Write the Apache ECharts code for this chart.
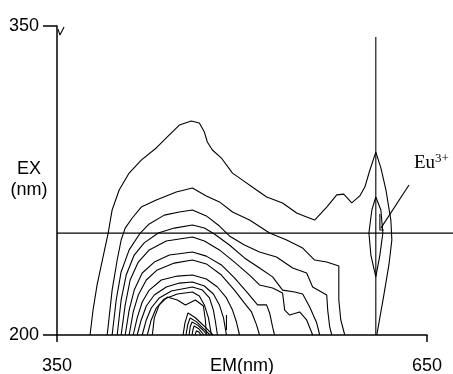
<!DOCTYPE html>
<html>
<head>
<meta charset="utf-8">
<script src="https://cdn.jsdelivr.net/npm/echarts@6/dist/echarts.min.js"></script>
<style>
  html, body { margin: 0; padding: 0; background: #fff; overflow: hidden; }
  #chart { width: 453px; height: 374px; }
</style>
</head>
<body>
<div id="chart"></div>
<script>
// Axis ranges and tick labels (nm)
const emRange = [350, 650];
const exRange = [200, 350];
const emTicks = [350, 650];
const exTicks = [200, 350];

// Excitation (EX = 249.5) and emission (EM = 608.5) guide lines
const excitationLine = [[350, 249.5], [671.1, 249.5]];
const emissionLine = [[608.5, 200], [608.5, 344.7]];

// Contour lines, [EM, EX] pairs, from the outermost level inwards
const contour1 = [[376.8,200],[379.2,212],[382.5,224.3],[387,237],[391.5,249.5],[394.7,260.7],[400.4,270.4],[408.5,278.6],[418.3,284.9],[430.5,290.8],[441.1,297.1],[449.2,301.9],[458.9,303.9],[465.4,302.9],[469.5,298.5],[471.9,293.7],[476.0,289.8],[483.3,285.9],[492.3,278.6],[500.4,275.2],[511.8,270.4],[520.0,267.0],[532.9,264.1],[544.3,259.2],[552.4,257.3],[558.9,255.8],[568.7,262.1],[576.8,268.0],[582.5,268.4],[589.0,264.1],[595.5,267.5],[599.6,271.8],[603.7,280.1],[608.5,288.8],[612.6,281.1],[616.7,270.4],[620.7,255.8],[621.5,246.1],[619.1,234.0],[615.0,219.4],[609.3,200]];
const contour2 = [[390.7,200],[394.7,221.8],[398.8,236.4],[402.0,246.1],[405.3,251.9],[411.0,256.8],[418.3,262.1],[430.5,265.5],[446.7,269.4],[459.8,271.4],[471.1,267.5],[481.7,264.6],[492.3,259.7],[506.1,255.8],[522.4,249.5],[536.2,246.1],[549.2,242.2],[558.9,236.4],[568.7,235.4],[578.5,233.5],[578.5,217.0],[580.1,207.3],[583.3,200]];
const contour3 = [[394.7,200],[398.0,217.0],[402.0,230.6],[408.5,241.3],[417.5,249.5],[424.8,253.9],[437.0,258.2],[449.2,259.7],[459.8,260.7],[471.1,257.8],[481.7,252.9],[489.8,248.1],[502.0,243.7],[514.2,240.3],[528.0,237.9],[541.1,232.5],[552.4,230.1],[557.3,223.3],[568.7,219.4],[569.5,212.1],[571.1,203.9],[572.8,200]];
const contour4 = [[398.8,200],[402.0,217.0],[406.1,229.1],[412.6,238.8],[420.7,244.7],[432.1,249.5],[445.1,251.9],[459.8,253.4],[469.5,251.9],[477.6,249.0],[489.8,243.7],[502.0,237.4],[514.2,232.5],[524.8,228.2],[532.9,221.8],[542.7,220.9],[549.2,219.9],[554.9,213.6],[560.6,205.8],[563.0,200]];
const contour5 = [[402.0,200],[405.3,214.6],[409.3,226.7],[415.9,235.4],[424.8,241.3],[438.6,245.6],[449.2,246.6],[459.8,247.6],[469.5,245.6],[481.7,241.3],[493.9,235.4],[506.1,229.1],[514.2,224.3],[524.8,222.8],[532.9,220.4],[534.6,212.1],[538.6,209.7],[546.7,211.2],[552.4,207.3],[557.3,200]];
const contour6 = [[405.3,200],[408.5,212.1],[412.6,221.8],[419.1,230.1],[428.9,235.4],[441.1,238.8],[459.8,240.3],[471.1,238.3],[483.3,234.0],[493.9,227.7],[504.5,220.4],[512.6,214.6],[519.9,214.6],[522.4,210.7],[524.8,203.9],[526.4,200]];
const contour7 = [[408.5,200],[411.8,211.2],[415.9,219.4],[422.4,226.7],[431.3,231.6],[445.1,234.9],[459.8,236.4],[471.1,234.5],[483.3,229.1],[493.9,221.8],[502.0,215.5],[507.7,211.2],[511.8,204.9],[514.2,200]];
const contour8 = [[411.8,200],[415.0,208.3],[419.1,216.0],[424.8,221.8],[434.6,226.7],[447.6,228.6],[459.8,229.1],[471.1,227.2],[480.1,223.3],[487.4,218.0],[492.3,212.1],[495.5,206.3],[498.0,200]];
const contour9 = [[415.0,200],[418.3,207.3],[422.4,214.1],[428.9,219.4],[438.6,223.3],[449.2,225.2],[459.8,225.7],[469.5,223.8],[476.8,219.9],[481.7,214.6],[485.0,208.3],[487.4,200]];
const contour10 = [[419.1,200],[422.4,207.3],[426.4,213.1],[432.9,218.0],[442.7,221.4],[459.8,223.3],[467.9,221.8],[473.6,218.0],[476.8,212.1],[478.5,206.3],[480.1,200]];
const contour11 = [[423.2,200],[426.4,207.3],[430.5,213.1],[437.0,217.5],[447.6,219.9],[459.8,220.9],[465.4,218.9],[469.5,214.6],[472.8,208.3],[475.2,200]];
const contour12 = [[427.3,200],[428.9,208.3],[432.9,214.6],[439.4,218.4],[447.6,217.0],[454.1,214.6],[462.2,217.0],[468.7,214.1],[470.3,207.3],[471.1,200]];
const contour13 = [[452.2,200],[453.8,206.0],[456.2,210.7],[462.0,208.5],[469.0,204.5],[476.5,200]];
const contour14 = [[454.6,200],[456.0,205.0],[457.9,208.3],[463.0,206.5],[469.0,203.0],[474.1,200]];
const contour15 = [[457.1,200],[458.0,204.0],[459.5,206.3],[464.0,204.8],[468.5,202.3],[471.7,200]];
const contour16 = [[459.5,200],[460.2,202.5],[461.1,204.4],[465.0,203.0],[469.2,200]];
const contour17 = [[461.9,200],[463.0,202.0],[465.0,201.5],[466.8,200]];
const shoulderSegment = [[487.4,209.7],[487.4,202.4]];

// Closed inner contour of the Eu3+ emission peak
const euPeak = [[608.5,267.0],[605.3,260.7],[602.9,249.5],[604.5,238.8],[608.5,228.2],[611.8,238.8],[614.2,249.5],[612.6,260.7],[608.5,267.0]];

// Leader from the Eu3+ peak to its label
const euLeader = [[612.6,251.9],[635.4,272.8]];
const euMarker = [[611.8,258.7],[611.8,251.0],[615.0,251.0]];

// Small stroke at the top of the EX axis
const axisStroke = [[350.8,348.5],[352.4,345.6],[355.7,349.5]];

const contours = [contour1, contour2, contour3, contour4, contour5, contour6, contour7, contour8,
  contour9, contour10, contour11, contour12, contour13, contour14, contour15, contour16, contour17,
  shoulderSegment, euPeak, euMarker, emissionLine, euLeader, axisStroke];

const chart = echarts.init(document.getElementById('chart'), null, { renderer: 'canvas' });

const lineSeries = (data, width, axisIndex) => ({
  type: 'line',
  data: data,
  xAxisIndex: axisIndex,
  yAxisIndex: axisIndex,
  showSymbol: false,
  symbol: 'none',
  clip: false,
  silent: true,
  animation: false,
  lineStyle: { color: '#000', width: width }
});

const series = contours.map(c => lineSeries(c, 1.1, 0));
// the excitation line runs past the EM axis end, on a wider companion grid
series.push(lineSeries(excitationLine, 1.3, 1));

const font = 'Liberation Sans, Arial, sans-serif';

chart.setOption({
  backgroundColor: '#fff',
  animation: false,
  grid: [
    { left: 57, right: 26, top: 26, bottom: 39, containLabel: false, outerBoundsMode: 'none' },
    { left: 57, right: 0, top: 26, bottom: 39, containLabel: false, outerBoundsMode: 'none' }
  ],
  xAxis: [{
    type: 'value',
    gridIndex: 0,
    min: emRange[0], max: emRange[1],
    name: 'EM(nm)',
    nameLocation: 'middle',
    nameGap: 22,
    nameMoveOverlap: false,
    nameTextStyle: { color: '#000', fontSize: 18, fontFamily: font, verticalAlign: 'top' },
    axisLine: { show: true, onZero: false, lineStyle: { color: '#000', width: 1.5 } },
    axisTick: { show: true, customValues: emTicks, length: 7, lineStyle: { color: '#000', width: 1.5 } },
    axisLabel: { customValues: emTicks, color: '#000', fontSize: 18, fontFamily: font, margin: 22 },
    splitLine: { show: false }
  }, {
    type: 'value',
    gridIndex: 1,
    min: emRange[0], max: 671.1,
    show: false
  }],
  yAxis: [{
    type: 'value',
    gridIndex: 0,
    min: exRange[0], max: exRange[1],
    axisLine: { show: true, onZero: false, lineStyle: { color: '#000', width: 1.5 } },
    axisTick: { show: true, customValues: exTicks, length: 14, lineStyle: { color: '#000', width: 1.5 } },
    axisLabel: { customValues: exTicks, color: '#000', fontSize: 18, fontFamily: font, margin: 18 },
    splitLine: { show: false }
  }, {
    type: 'value',
    gridIndex: 1,
    min: exRange[0], max: exRange[1],
    show: false
  }],
  graphic: [
    {
      type: 'text',
      x: 29, y: 180,
      style: {
        text: 'EX\n(nm)',
        fill: '#000',
        font: '18px ' + font,
        textAlign: 'center',
        textVerticalAlign: 'middle',
        lineHeight: 21
      }
    },
    {
      type: 'text',
      x: 414, y: 163,
      style: {
        text: '{a|Eu}{b|3+}',
        textVerticalAlign: 'middle',
        rich: {
          a: { fontFamily: 'Liberation Serif, Times New Roman, serif', fontSize: 19, fill: '#000', lineHeight: 22 },
          b: { fontFamily: 'Liberation Serif, Times New Roman, serif', fontSize: 13, fill: '#000', verticalAlign: 'top', lineHeight: 14 }
        }
      }
    }
  ],
  series: series
});
</script>
</body>
</html>
